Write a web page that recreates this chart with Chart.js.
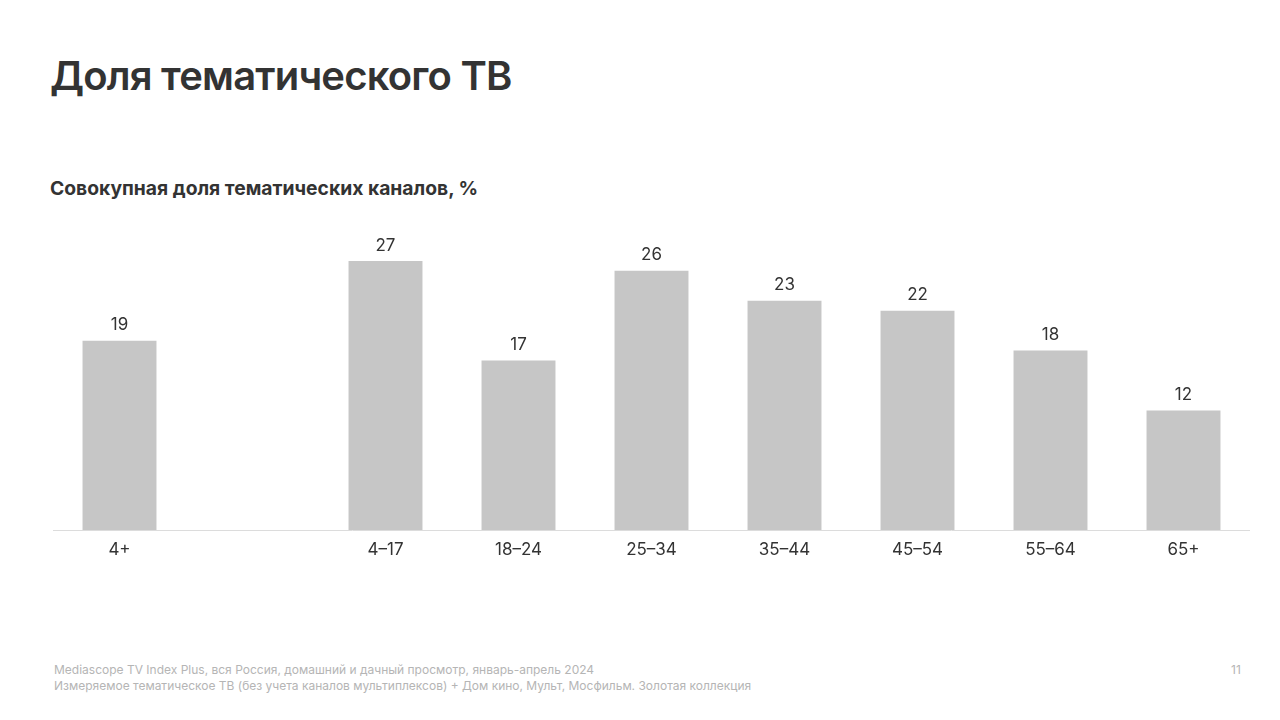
<!DOCTYPE html>
<html><head><meta charset="utf-8">
<script src="https://cdn.jsdelivr.net/npm/chart.js@4"></script>
<style>
body{margin:0;width:1280px;height:720px;background:#fff;font-family:Inter,Roboto,sans-serif;position:relative;overflow:hidden}
h1{position:absolute;left:50px;top:51px;margin:0;font-size:40px;font-weight:600;color:#333;letter-spacing:-0.8px}
h2{position:absolute;left:50px;top:176px;margin:0;font-size:19.3px;font-weight:700;color:#333}
#wrap{position:absolute;left:53px;top:200px;width:1197px;height:370px}
.foot{position:absolute;left:54px;top:662px;font-size:12px;color:#b5b5b5;line-height:16px}
.pg{position:absolute;left:1231px;top:662px;font-size:12px;color:#b5b5b5}
</style></head><body>
<h1>Доля тематического ТВ</h1>
<h2>Совокупная доля тематических каналов, %</h2>
<div id="wrap"><canvas id="c"></canvas></div>
<div class="foot">Mediascope TV Index Plus, вся Россия, домашний и дачный просмотр, январь-апрель 2024<br>Измеряемое тематическое ТВ (без учета каналов мультиплексов) + Дом кино, Мульт, Мосфильм. Золотая коллекция</div>
<div class="pg">11</div>
<script>
const categories=["4+","","4–17","18–24","25–34","35–44","45–54","55–64","65+"];
const values=[19,null,27,17,26,23,22,18,12];
const labelsPlugin={id:"lbl",afterDatasetsDraw(ch){const c=ch.ctx;const m=ch.getDatasetMeta(0);c.save();c.font="17px Inter, Roboto, sans-serif";c.fillStyle="#333";c.textAlign="center";c.textBaseline="bottom";
m.data.forEach((b,i)=>{if(values[i]==null)return;c.fillText(values[i],b.x,b.y-7);});c.restore();}};
new Chart(document.getElementById("c"),{type:"bar",
data:{labels:categories,datasets:[{data:values,backgroundColor:"#c6c6c6",barPercentage:0.556,categoryPercentage:1}]},
options:{responsive:true,maintainAspectRatio:false,animation:false,layout:{padding:{top:31,left:0,right:0,bottom:0}},
plugins:{legend:{display:false},tooltip:{enabled:false}},
scales:{y:{display:false,min:0,max:30},
x:{afterFit(s){s.height=40;},grid:{display:false},border:{color:"#dcdcdc"},ticks:{color:"#333",font:{size:17,family:"Inter, Roboto, sans-serif"},padding:2}}}},
plugins:[labelsPlugin]});
</script></body></html>
